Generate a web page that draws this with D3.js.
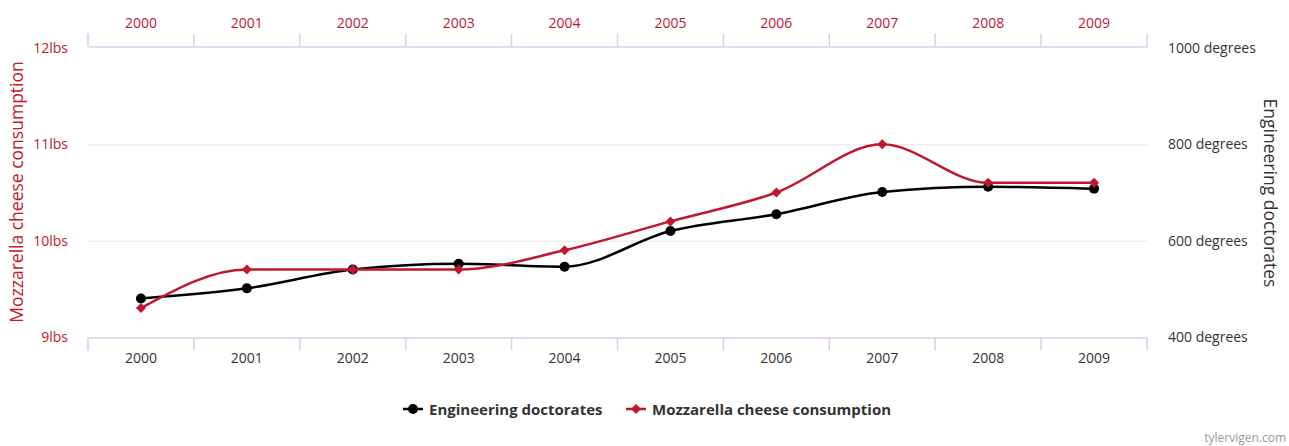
<!DOCTYPE html>
<html>
<head>
<meta charset="utf-8">
<style>
  body { margin: 0; background: #fff; }
  svg text { font-family: "Open Sans", "Noto Sans", sans-serif; }
</style>
</head>
<body>
<div id="chart"></div>

<script src="https://d3js.org/d3.v7.min.js"></script>
<script>

	var w = 1289, h = 446;
	var plotLeft = 88, plotRight = 1147, plotTop = 48, plotBottom = 337;

	// data
	var years = ["2000", "2001", "2002", "2003", "2004", "2005", "2006", "2007", "2008", "2009"];
	var doctorates = [480, 501, 540, 552, 546, 620, 655, 701, 712, 708];
	var mozzarella = [9.3, 9.7, 9.7, 9.7, 9.9, 10.2, 10.5, 11.0, 10.6, 10.6];
	var lbsTicks = [9, 10, 11, 12];
	var degreeTicks = [400, 600, 800, 1000];

	var red = "#c0172f", dark = "#333333", axisCol = "#ccd6eb", gridCol = "#e6e6e6";

	var svg = d3.select("#chart")
				.append("svg")
				.attr("width", w)
				.attr("height", h);

	// scales
	var x = d3.scaleBand().domain(years).range([plotLeft, plotRight]);
	var yL = d3.scaleLinear().domain([9, 12]).range([plotBottom, plotTop]);
	var yR = d3.scaleLinear().domain([400, 1000]).range([plotBottom, plotTop]);
	var cx = function(d, i) { return x(years[i]) + x.bandwidth() / 2; };

	// grid lines
	svg.append("g").selectAll("line")
	   .data(lbsTicks.slice(1, 3))
	   .enter().append("line")
	   .attr("x1", plotLeft).attr("x2", plotRight)
	   .attr("y1", function(d) { return yL(d) + 0.5; })
	   .attr("y2", function(d) { return yL(d) + 0.5; })
	   .attr("stroke", gridCol);

	// top axis (red years)
	var topAxis = svg.append("g")
		.attr("transform", "translate(0," + (plotTop - 1.5) + ")")
		.call(d3.axisTop(x).tickSizeInner(0).tickSizeOuter(0).tickPadding(19));
	topAxis.select(".domain").attr("stroke", axisCol).attr("stroke-width", 1.5);
	topAxis.selectAll("text").attr("fill", red).attr("font-size", 14);
	topAxis.selectAll(".bound")
		.data(d3.range(years.length + 1))
		.enter().append("line")
		.attr("class", "bound")
		.attr("x1", function(i) { return plotLeft + i * x.step(); })
		.attr("x2", function(i) { return plotLeft + i * x.step(); })
		.attr("y1", 0).attr("y2", -13)
		.attr("stroke", axisCol).attr("stroke-width", 1.5);

	// bottom axis (dark years)
	var botAxis = svg.append("g")
		.attr("transform", "translate(0," + (plotBottom + 0.5) + ")")
		.call(d3.axisBottom(x).tickSizeInner(0).tickSizeOuter(0).tickPadding(16));
	botAxis.select(".domain").attr("stroke", axisCol).attr("stroke-width", 1.5);
	botAxis.selectAll("text").attr("fill", dark).attr("font-size", 14);
	botAxis.selectAll(".bound")
		.data(d3.range(years.length + 1))
		.enter().append("line")
		.attr("class", "bound")
		.attr("x1", function(i) { return plotLeft + i * x.step(); })
		.attr("x2", function(i) { return plotLeft + i * x.step(); })
		.attr("y1", 0).attr("y2", 13)
		.attr("stroke", axisCol).attr("stroke-width", 1.5);

	// left axis (lbs)
	var lAxis = svg.append("g")
		.attr("transform", "translate(" + plotLeft + ",0)")
		.call(d3.axisLeft(yL).tickValues(lbsTicks).tickSize(0).tickPadding(20)
			.tickFormat(function(d) { return d + "lbs"; }));
	lAxis.select(".domain").remove();
	lAxis.selectAll("text").attr("fill", red).attr("font-size", 14);

	// right axis (degrees)
	var rAxis = svg.append("g")
		.attr("transform", "translate(" + plotRight + ",0)")
		.call(d3.axisRight(yR).tickValues(degreeTicks).tickSize(0).tickPadding(21)
			.tickFormat(function(d) { return d + " degrees"; }));
	rAxis.select(".domain").remove();
	rAxis.selectAll("text").attr("fill", dark).attr("font-size", 14);

	// axis titles
	svg.append("text")
	   .attr("transform", "translate(23,192) rotate(-90)")
	   .attr("text-anchor", "middle")
	   .attr("fill", red).attr("font-size", 17.5)
	   .text("Mozzarella cheese consumption");

	svg.append("text")
	   .attr("transform", "translate(1264,193) rotate(90)")
	   .attr("text-anchor", "middle")
	   .attr("fill", dark).attr("font-size", 17.5)
	   .text("Engineering doctorates");

	// lines
	var lineL = d3.line().x(cx).y(function(d) { return yL(d); }).curve(d3.curveMonotoneX);
	var lineR = d3.line().x(cx).y(function(d) { return yR(d); }).curve(d3.curveMonotoneX);

	svg.append("path")
	   .attr("d", lineR(doctorates))
	   .attr("fill", "none").attr("stroke", "#000").attr("stroke-width", 2.5);

	svg.append("g").selectAll("circle")
	   .data(doctorates)
	   .enter().append("circle")
	   .attr("cx", cx)
	   .attr("cy", function(d) { return yR(d); })
	   .attr("r", 5)
	   .attr("fill", "#000");

	svg.append("path")
	   .attr("d", lineL(mozzarella))
	   .attr("fill", "none").attr("stroke", red).attr("stroke-width", 2.5);

	// diamond = square turned 45 degrees
	var diamond = d3.symbol().type(d3.symbolSquare).size(50);
	svg.append("g").selectAll("path")
	   .data(mozzarella)
	   .enter().append("path")
	   .attr("d", diamond)
	   .attr("transform", function(d, i) { return "translate(" + cx(d, i) + "," + yL(d) + ") rotate(45)"; })
	   .attr("fill", red);

	// legend
	var legend = svg.append("g").attr("transform", "translate(0,409)");
	var items = [
		{ label: "Engineering doctorates", color: "#000", sym: "circle", x: 403 },
		{ label: "Mozzarella cheese consumption", color: red, sym: "diamond", x: 626 }
	];
	items.forEach(function(it) {
		var g = legend.append("g").attr("transform", "translate(" + it.x + ",0)");
		g.append("line").attr("x1", 0).attr("x2", 20).attr("y1", 0).attr("y2", 0)
		 .attr("stroke", it.color).attr("stroke-width", 2.5);
		if (it.sym == "circle") {
			g.append("circle").attr("cx", 10).attr("cy", 0).attr("r", 5).attr("fill", it.color);
		} else {
			g.append("path").attr("d", diamond).attr("transform", "translate(10,0) rotate(45)").attr("fill", it.color);
		}
		g.append("text").attr("x", 26).attr("y", 5.5)
		 .attr("fill", dark).attr("font-size", 15).attr("font-weight", "bold")
		 .text(it.label);
	});

	// credit
	svg.append("text")
	   .attr("x", 1286).attr("y", 442)
	   .attr("text-anchor", "end")
	   .attr("fill", "#999").attr("font-size", 12)
	   .text("tylervigen.com");

</script>
</body>
</html>
